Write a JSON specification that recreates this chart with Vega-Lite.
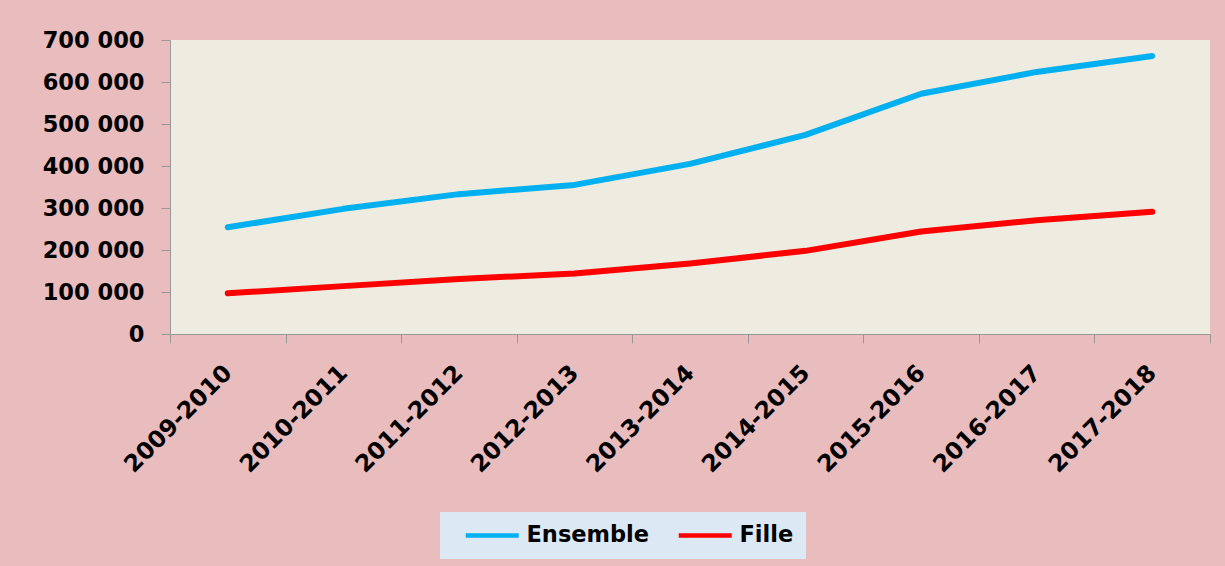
{
  "$schema": "https://vega.github.io/schema/vega-lite/v6.json",
  "width": 1040,
  "height": 294,
  "autosize": "none",
  "padding": {"left": 170, "top": 40, "right": 15, "bottom": 232},
  "background": "#e9bcbe",
  "data": {"values": [
    {"annee": "2009-2010", "serie": "Ensemble", "valeur": 254000},
    {"annee": "2010-2011", "serie": "Ensemble", "valeur": 298000},
    {"annee": "2011-2012", "serie": "Ensemble", "valeur": 333000},
    {"annee": "2012-2013", "serie": "Ensemble", "valeur": 355000},
    {"annee": "2013-2014", "serie": "Ensemble", "valeur": 405000},
    {"annee": "2014-2015", "serie": "Ensemble", "valeur": 474000},
    {"annee": "2015-2016", "serie": "Ensemble", "valeur": 572000},
    {"annee": "2016-2017", "serie": "Ensemble", "valeur": 624000},
    {"annee": "2017-2018", "serie": "Ensemble", "valeur": 662000},
    {"annee": "2009-2010", "serie": "Fille", "valeur": 97000},
    {"annee": "2010-2011", "serie": "Fille", "valeur": 114000},
    {"annee": "2011-2012", "serie": "Fille", "valeur": 131000},
    {"annee": "2012-2013", "serie": "Fille", "valeur": 144000},
    {"annee": "2013-2014", "serie": "Fille", "valeur": 168000},
    {"annee": "2014-2015", "serie": "Fille", "valeur": 198000},
    {"annee": "2015-2016", "serie": "Fille", "valeur": 244000},
    {"annee": "2016-2017", "serie": "Fille", "valeur": 271000},
    {"annee": "2017-2018", "serie": "Fille", "valeur": 291000}
  ]},
  "mark": {"type": "line", "strokeWidth": 6, "strokeCap": "round", "strokeJoin": "round"},
  "encoding": {
    "x": {
      "field": "annee", "type": "ordinal", "title": null,
      "scale": {"type": "band", "paddingInner": 0, "paddingOuter": 0},
      "axis": {
        "tickBand": "extent", "labelAngle": -45, "labelAlign": "right", "labelBaseline": "middle",
        "labelPadding": 26, "tickSize": 9, "domainColor": "#999999", "tickColor": "#999999",
        "labelFont": "DejaVu Sans", "labelFontWeight": "bold", "labelFontSize": 23.5, "labelColor": "#000000",
        "grid": false
      }
    },
    "y": {
      "field": "valeur", "type": "quantitative", "title": null,
      "scale": {"domain": [0, 700000], "nice": false},
      "axis": {
        "values": [0, 100000, 200000, 300000, 400000, 500000, 600000, 700000],
        "labelExpr": "replace(format(datum.value, ','), /,/g, ' ')",
        "grid": false, "tickSize": 9, "labelPadding": 17,
        "domainColor": "#999999", "tickColor": "#999999",
        "labelFont": "DejaVu Sans", "labelFontWeight": "bold", "labelFontSize": 22.5, "labelColor": "#000000"
      }
    },
    "color": {
      "field": "serie", "type": "nominal", "title": null,
      "scale": {"domain": ["Ensemble", "Fille"], "range": ["#00b0f0", "#ff0000"]},
      "legend": {
        "orient": "none", "legendX": 270, "legendY": 472, "direction": "horizontal",
        "symbolType": "M-5.3,0H5.3", "symbolStrokeWidth": 4.5, "symbolSize": 100,
        "symbolOffset": 29, "labelOffset": 23, "columnPadding": 15,
        "labelFont": "DejaVu Sans", "labelFontWeight": "bold", "labelFontSize": 22.5, "labelColor": "#000000",
        "padding": 12,
        "fillColor": "#dde8f5", "strokeColor": null
      }
    }
  },
  "config": {
    "view": {"fill": "#eeebe0", "stroke": null}
  }
}
